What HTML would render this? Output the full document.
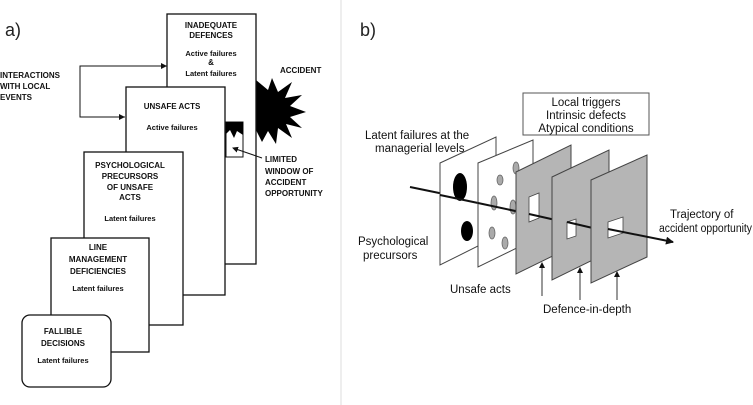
<!DOCTYPE html>
<html><head><style>
html,body{margin:0;padding:0;background:#fff}
svg{display:block}
.b{font-family:"Liberation Sans",sans-serif;font-weight:bold;font-size:8px;fill:#111}
.n{font-family:"Liberation Sans",sans-serif;font-size:11.5px;fill:#111}
</style></head><body>
<svg width="753" height="405" viewBox="0 0 753 405" xmlns="http://www.w3.org/2000/svg">
<defs><marker id="ah" markerWidth="8" markerHeight="8" refX="7" refY="4" orient="auto" markerUnits="userSpaceOnUse"><path d="M0,0 L8,4 L0,8 z" fill="#111"/></marker>
<marker id="as" markerWidth="6" markerHeight="6" refX="5" refY="3" orient="auto" markerUnits="userSpaceOnUse"><path d="M0,0 L6,3 L0,6 z" fill="#111"/></marker></defs>
<line x1="341" y1="0" x2="341" y2="405" stroke="#ddd" stroke-width="1"/>
<text x="5" y="36" font-family="Liberation Sans,sans-serif" font-size="18" fill="#222">a)</text>
<text x="360" y="36" font-family="Liberation Sans,sans-serif" font-size="18" fill="#222">b)</text>
<polygon fill="#000" points="256,80 268,90 272,78 278,92 292,82 285,98 302,95 290,106 306,112 290,117 302,128 286,124 292,138 278,128 276,144 268,131 262,142 256,130"/>
<rect x="167" y="14" width="89" height="250" fill="#fff" stroke="#111" stroke-width="1.3"/>
<text class="b" text-anchor="middle"><tspan x="211" y="28">INADEQUATE</tspan><tspan x="211" y="38">DEFENCES</tspan><tspan x="211" y="56" font-size="7.5">Active failures</tspan><tspan x="211" y="65">&amp;</tspan><tspan x="211" y="76" font-size="7.5">Latent failures</tspan></text>
<rect x="226" y="122" width="17" height="35" fill="#fff" stroke="#111" stroke-width="1"/>
<polygon points="226,122 243,122 243,135 237,131 234,138 230,130 226,134" fill="#000"/>
<rect x="126" y="87" width="99" height="208" fill="#fff" stroke="#111" stroke-width="1.3"/>
<text class="b" text-anchor="middle"><tspan x="172" y="109">UNSAFE ACTS</tspan><tspan x="172" y="130" font-size="7.5">Active failures</tspan></text>
<rect x="84" y="152" width="99" height="173" fill="#fff" stroke="#111" stroke-width="1.3"/>
<text class="b" text-anchor="middle"><tspan x="130" y="168">PSYCHOLOGICAL</tspan><tspan x="130" y="179">PRECURSORS</tspan><tspan x="130" y="190">OF UNSAFE</tspan><tspan x="130" y="200">ACTS</tspan><tspan x="130" y="221" font-size="7.5">Latent failures</tspan></text>
<rect x="51" y="238" width="98" height="114" fill="#fff" stroke="#111" stroke-width="1.3"/>
<text class="b" text-anchor="middle"><tspan x="98" y="250">LINE</tspan><tspan x="98" y="262">MANAGEMENT</tspan><tspan x="98" y="274">DEFICIENCIES</tspan><tspan x="98" y="291" font-size="7.5">Latent failures</tspan></text>
<rect x="22" y="315" width="89" height="72" rx="8" fill="#fff" stroke="#111" stroke-width="1.3"/>
<text class="b" text-anchor="middle"><tspan x="63" y="334">FALLIBLE</tspan><tspan x="63" y="346">DECISIONS</tspan><tspan x="63" y="363" font-size="7.5">Latent failures</tspan></text>
<polyline points="167,66 80,66 80,117 125,117" fill="none" stroke="#111" stroke-width="1"/>
<path d="M161,63 L167,66 L161,69z M119,114 L125,117 L119,120z" fill="#111"/>
<text class="b"><tspan x="0" y="78">INTERACTIONS</tspan><tspan x="0" y="89">WITH LOCAL</tspan><tspan x="0" y="100">EVENTS</tspan></text>
<text class="b" x="280" y="73">ACCIDENT</text>
<line x1="262" y1="158" x2="233" y2="148" stroke="#111" stroke-width="1" marker-end="url(#as)"/>
<text class="b"><tspan x="265" y="162">LIMITED</tspan><tspan x="265" y="174">WINDOW OF</tspan><tspan x="265" y="185">ACCIDENT</tspan><tspan x="265" y="196">OPPORTUNITY</tspan></text>
<rect x="523" y="93" width="126" height="42" fill="#fff" stroke="#555" stroke-width="1"/>
<text class="n" text-anchor="middle"><tspan x="586" y="106">Local triggers</tspan><tspan x="586" y="119">Intrinsic defects</tspan><tspan x="586" y="132">Atypical conditions</tspan></text>
<text class="n"><tspan x="365" y="139">Latent failures at the</tspan><tspan x="375" y="152">managerial levels</tspan></text>
<line x1="410" y1="187" x2="478" y2="201" stroke="#111" stroke-width="2"/>
<polygon points="440,163 496,137 496,237 440,265" fill="#fff" stroke="#444" stroke-width="1"/>
<ellipse cx="460" cy="187" rx="7" ry="14" fill="#000"/>
<ellipse cx="467" cy="231" rx="6" ry="10" fill="#000"/>
<line x1="440" y1="195" x2="478" y2="203" stroke="#111" stroke-width="2"/>
<polygon points="478,163 533,140 533,240 478,267" fill="#fff" stroke="#444" stroke-width="1"/>
<g fill="#aaa" stroke="#666" stroke-width="0.8">
<ellipse cx="500" cy="180" rx="3" ry="5"/><ellipse cx="494" cy="203" rx="3" ry="7"/><ellipse cx="492" cy="233" rx="3" ry="6"/><ellipse cx="505" cy="243" rx="3" ry="6"/><ellipse cx="516" cy="168" rx="3" ry="6"/><ellipse cx="513" cy="207" rx="3" ry="7"/></g>
<line x1="478" y1="203" x2="520" y2="212" stroke="#111" stroke-width="2"/>
<polygon points="516,172 571,145 571,247 516,274" fill="#b5b5b5" stroke="#444" stroke-width="1"/>
<polygon points="529,197 539,193 539,218 529,222" fill="#fff" stroke="#444" stroke-width="0.8"/>
<line x1="529" y1="214" x2="560" y2="221" stroke="#111" stroke-width="2"/>
<polygon points="552,177 609,150 609,252 552,280" fill="#b5b5b5" stroke="#444" stroke-width="1"/>
<polygon points="567,222 576,219 576,236 567,239" fill="#fff" stroke="#444" stroke-width="0.8"/>
<line x1="567" y1="222" x2="597" y2="229" stroke="#111" stroke-width="2"/>
<polygon points="591,180 647,155 647,257 591,283" fill="#b5b5b5" stroke="#444" stroke-width="1"/>
<polygon points="608,222 623,217 623,233 608,238" fill="#fff" stroke="#444" stroke-width="0.8"/>
<line x1="608" y1="229" x2="673" y2="242" stroke="#111" stroke-width="2" marker-end="url(#ah)"/>
<text class="n" font-size="11"><tspan x="670" y="218">Trajectory of</tspan></text>
<text class="n" x="659" y="232" textLength="93" lengthAdjust="spacingAndGlyphs">accident opportunity</text>
<text class="n"><tspan x="358" y="245">Psychological</tspan><tspan x="363" y="259">precursors</tspan></text>
<text class="n" x="450" y="293">Unsafe acts</text>
<text class="n" x="543" y="313">Defence-in-depth</text>
<g stroke="#333" stroke-width="1">
<line x1="542" y1="296" x2="542" y2="263" marker-end="url(#as)"/>
<line x1="580" y1="300" x2="580" y2="268" marker-end="url(#as)"/>
<line x1="617" y1="300" x2="617" y2="272" marker-end="url(#as)"/></g>
</svg>
</body></html>
